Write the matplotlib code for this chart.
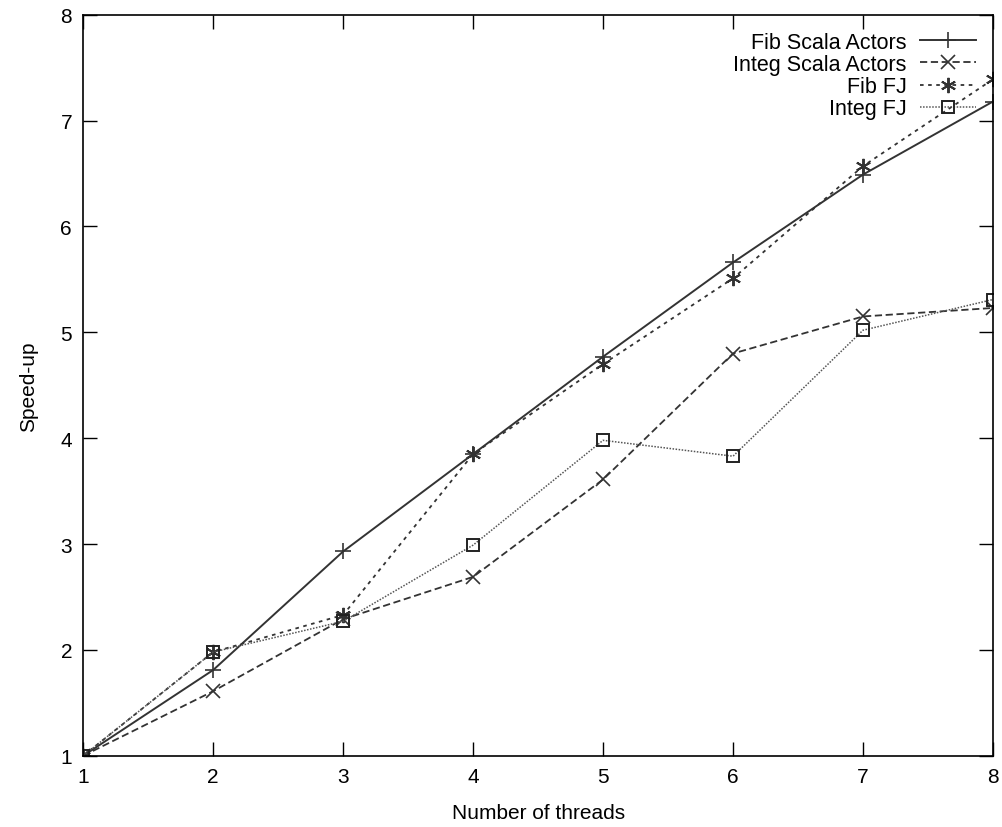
import matplotlib
matplotlib.use("Agg")
import matplotlib.pyplot as plt

plt.rcParams.update({
    "font.family": ["Liberation Sans Narrow", "Liberation Sans", "DejaVu Sans"],
    "font.size": 14,
})

threads = [1, 2, 3, 4, 5, 6, 7, 8]
fib_actors = [1.0, 1.81, 2.93, 3.85, 4.77, 5.66, 6.49, 7.18]
integ_actors = [1.0, 1.61, 2.29, 2.69, 3.61, 4.80, 5.15, 5.23]
fib_fj = [1.0, 1.98, 2.33, 3.85, 4.70, 5.51, 6.57, 7.39]
integ_fj = [1.0, 1.98, 2.27, 2.99, 3.98, 3.83, 5.02, 5.31]

fig = plt.figure(figsize=(10.02, 8.28), dpi=100)
ax = fig.add_axes([0.083, 0.086, 0.908, 0.895])

ax.plot(threads, fib_actors, color="#333333", lw=1.4, ls="-", marker="+",
        ms=11, mew=1.2, label="Fib Scala Actors")
ax.plot(threads, integ_actors, color="#333333", lw=1.3, ls=(0, (4, 2)), marker="x",
        ms=10, mew=1.2, label="Integ Scala Actors")
ax.plot(threads, fib_fj, color="#333333", lw=1.3, ls=(0, (2, 2.5)), marker=(6, 2, 0),
        ms=11, mew=1.4, label="Fib FJ")
ax.plot(threads, integ_fj, color="#555555", lw=1.1, ls=(0, (1, 1)), marker="s",
        ms=9, mfc="none", mec="#222222", mew=1.4, label="Integ FJ")

ax.set_xlim(1, 8)
ax.set_ylim(1, 8)
ax.set_xticks(threads)
ax.set_yticks(range(1, 9))
ax.tick_params(direction="in", length=10, width=1, top=True, right=True, labelsize=15, pad=8)
for s in ax.spines.values():
    s.set_linewidth(1.2)
ax.set_xlabel("Number of threads", fontsize=15, labelpad=12)
ax.set_ylabel("Speed-up", fontsize=15, labelpad=16)

ax.legend(loc="upper right", frameon=False, markerfirst=False, fontsize=15.5,
          handlelength=2.6, labelspacing=0.05, borderaxespad=0.5, handletextpad=0.6,
          borderpad=0.3)

fig.savefig("out.png", dpi=100, facecolor="white")
